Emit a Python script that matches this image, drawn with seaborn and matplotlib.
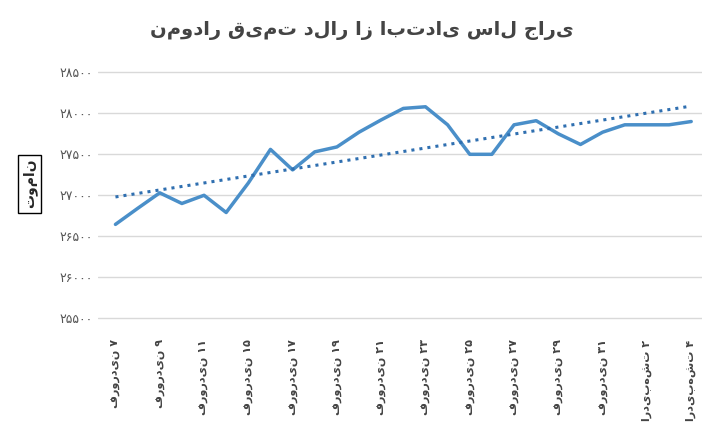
import matplotlib
matplotlib.use("Agg")
import matplotlib.pyplot as plt
import seaborn as sns
import numpy as np
import pandas as pd

labels = ["فروردین ۷","فروردین ۹","فروردین ۱۱","فروردین ۱۵","فروردین ۱۷","فروردین ۱۹","فروردین ۲۱",
          "فروردین ۲۳","فروردین ۲۵","فروردین ۲۷","فروردین ۲۹","فروردین ۳۱","اردیبهشت ۲","اردیبهشت ۴"]
values = [26645, 26840, 27030, 26900, 27000, 26790, 27150, 27560, 27310, 27530, 27590, 27770, 27920, 28060,
          28080, 27860, 27500, 27500, 27860, 27910, 27750, 27620, 27770, 27860, 27860, 27860, 27900]
yticks = [25500, 26000, 26500, 27000, 27500, 28000, 28500]

def fa(n):
    return str(n).translate(str.maketrans("0123456789", "۰۱۲۳۴۵۶۷۸۹"))

sns.set_style("white")
plt.rcParams['font.family'] = ['DejaVu Sans']
df = pd.DataFrame({"i": np.arange(len(values)), "v": values})
fig, ax = plt.subplots(figsize=(7.24, 4.29), dpi=100)
fig.subplots_adjust(left=0.135, right=0.97, top=0.86, bottom=0.22)
sns.lineplot(data=df, x="i", y="v", ax=ax, color="#4a8fc9", linewidth=2.5)
k, b = np.polyfit(df.i, df.v, 1)
ax.plot(df.i, k * df.i + b, linestyle=":", color="#2f6fb0", linewidth=2.2)
ax.set_ylim(25300, 28650)
ax.set_xlim(-0.8, 26.5)
ax.set_yticks(yticks)
ax.set_yticklabels([fa(t) for t in yticks], fontsize=9, color="#555555")
ax.set_xticks(np.arange(0, 27, 2))
ax.set_xticklabels(labels, rotation=90, fontsize=8, fontweight="bold", color="#444444")
ax.grid(axis="y", color="#d9d9d9", linewidth=1)
for s in ax.spines.values():
    s.set_visible(False)
ax.set_xlabel("")
ax.set_ylabel("تومان", fontsize=10, fontweight="bold", rotation=90,
              bbox=dict(facecolor="white", edgecolor="black", boxstyle="square,pad=0.3"))
ax.yaxis.set_label_coords(-0.1, 0.55)
ax.tick_params(axis="both", length=0)
fig.suptitle("نمودار قیمت دلار از ابتدای سال جاری", fontsize=14, fontweight="bold", color="#444444", y=0.95)
fig.savefig("out.png", dpi=100)
